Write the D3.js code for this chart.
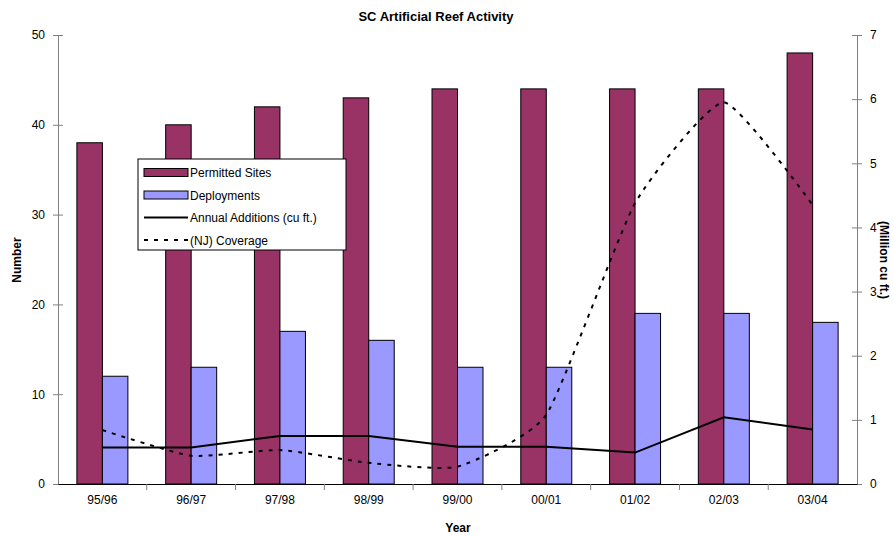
<!DOCTYPE html>
<html lang="en">
<head>
<meta charset="utf-8">
<title>SC Artificial Reef Activity</title>
<script src="https://d3js.org/d3.v7.min.js"></script>
<style>
  body { margin: 0; background: #fff; }
  text { font-family: "Liberation Sans", Arial, sans-serif; fill: #000; }
</style>
</head>
<body>
<script>
// data
const years = ["95/96", "96/97", "97/98", "98/99", "99/00", "00/01", "01/02", "02/03", "03/04"];
const permitted = [38, 40, 42, 43, 44, 44, 44, 44, 48];
const deployments = [12, 13, 17, 16, 13, 13, 19, 19, 18];
const annualAdd = [0.57, 0.57, 0.75, 0.75, 0.58, 0.58, 0.49, 1.04, 0.85];   // million cu ft
const njCoverage = [0.84, 0.44, 0.53, 0.33, 0.27, 1.08, 4.38, 5.95, 4.35];
const leftTicks = [0, 10, 20, 30, 40, 50];
const rightTicks = [0, 1, 2, 3, 4, 5, 6, 7];

const W = 893, H = 537;
const plotL = 58, plotR = 857, plotT = 35, plotB = 484;

const svg = d3.select("body").append("svg").attr("width", W).attr("height", H);

const x = d3.scaleBand().domain(years).range([plotL, plotR]).paddingInner(0).paddingOuter(0);
const yL = d3.scaleLinear().domain([0, 50]).range([plotB, plotT]);
const yR = d3.scaleLinear().domain([0, 7]).range([plotB, plotT]);
const barW = 25.5;

// bars
const groups = svg.append("g").selectAll("g").data(years).join("g")
  .attr("transform", d => "translate(" + (x(d) + x.bandwidth() / 2) + ",0)");
groups.append("rect")
  .attr("x", -barW).attr("width", barW)
  .attr("y", (d, i) => yL(permitted[i])).attr("height", (d, i) => plotB - yL(permitted[i]))
  .attr("fill", "#993366").attr("stroke", "#000").attr("stroke-width", 1);
groups.append("rect")
  .attr("x", 0).attr("width", barW)
  .attr("y", (d, i) => yL(deployments[i])).attr("height", (d, i) => plotB - yL(deployments[i]))
  .attr("fill", "#9999ff").attr("stroke", "#000").attr("stroke-width", 1);

// lines
const cx = d => x(d) + x.bandwidth() / 2;
const lineStraight = d3.line().x((d, i) => cx(years[i])).y(d => yR(d));
const lineSmooth = d3.line().x((d, i) => cx(years[i])).y(d => yR(d)).curve(d3.curveCardinal.tension(0.5));
svg.append("path").attr("d", lineStraight(annualAdd))
  .attr("fill", "none").attr("stroke", "#000").attr("stroke-width", 2);
svg.append("path").attr("d", lineSmooth(njCoverage))
  .attr("fill", "none").attr("stroke", "#000").attr("stroke-width", 2).attr("stroke-dasharray", "4,6");

// axes
const axisCol = "#808080";
const leftAxis = svg.append("g").attr("transform", "translate(" + plotL + ",0)")
  .call(d3.axisLeft(yL).tickValues(leftTicks).tickSizeInner(5).tickSizeOuter(0).tickPadding(8));
leftAxis.selectAll(".tick line").attr("x1", 5);
const rightAxis = svg.append("g").attr("transform", "translate(" + plotR + ",0)")
  .call(d3.axisRight(yR).tickValues(rightTicks).tickFormat(d3.format("d")).tickSizeInner(5).tickSizeOuter(0).tickPadding(8));
rightAxis.selectAll(".tick line").attr("x1", -5);
const bottomAxis = svg.append("g").attr("transform", "translate(0," + plotB + ")")
  .call(d3.axisBottom(x).tickSize(0).tickPadding(11));
bottomAxis.selectAll(".tick line").remove();
svg.append("g").selectAll("line").data(d3.range(1, years.length)).join("line")
  .attr("x1", i => plotL + i * x.step()).attr("x2", i => plotL + i * x.step())
  .attr("y1", plotB).attr("y2", plotB + 6).attr("stroke", axisCol);
[leftAxis, rightAxis, bottomAxis].forEach(a => {
  a.selectAll("path").attr("stroke", axisCol);
  a.selectAll(".tick line").attr("stroke", axisCol);
  a.selectAll("text").attr("font-size", 12).attr("font-family", "Liberation Sans, Arial, sans-serif");
});
bottomAxis.select("path").attr("stroke", "#000");

// titles
svg.append("text").attr("x", 436).attr("y", 21).attr("text-anchor", "middle")
  .attr("font-size", 13).attr("font-weight", "bold").text("SC Artificial Reef Activity");
svg.append("text").attr("x", 458).attr("y", 532).attr("text-anchor", "middle")
  .attr("font-size", 12).attr("font-weight", "bold").text("Year");
svg.append("text").attr("transform", "translate(21,260) rotate(-90)").attr("text-anchor", "middle")
  .attr("font-size", 12).attr("font-weight", "bold").text("Number");
svg.append("text").attr("transform", "translate(880,260) rotate(90)").attr("text-anchor", "middle")
  .attr("font-size", 12).attr("font-weight", "bold").text("(Million cu ft.)");

// legend
const lg = svg.append("g").attr("transform", "translate(138,159)");
lg.append("rect").attr("width", 208).attr("height", 91).attr("fill", "#fff").attr("stroke", "#000");
const items = [
  { name: "Permitted Sites", type: "bar", color: "#993366" },
  { name: "Deployments", type: "bar", color: "#9999ff" },
  { name: "Annual Additions (cu ft.)", type: "line", dash: null },
  { name: "(NJ) Coverage", type: "line", dash: "4,6" }
];
items.forEach((it, i) => {
  const yy = 13.5 + i * 22.5;
  if (it.type === "bar") {
    lg.append("rect").attr("x", 6).attr("y", yy - 4).attr("width", 44).attr("height", 8)
      .attr("fill", it.color).attr("stroke", "#000");
  } else {
    lg.append("line").attr("x1", 6).attr("x2", 50).attr("y1", yy).attr("y2", yy)
      .attr("stroke", "#000").attr("stroke-width", 2).attr("stroke-dasharray", it.dash);
  }
  lg.append("text").attr("x", 52).attr("y", yy + 4.5).attr("font-size", 12).text(it.name);
});
</script>
</body>
</html>
